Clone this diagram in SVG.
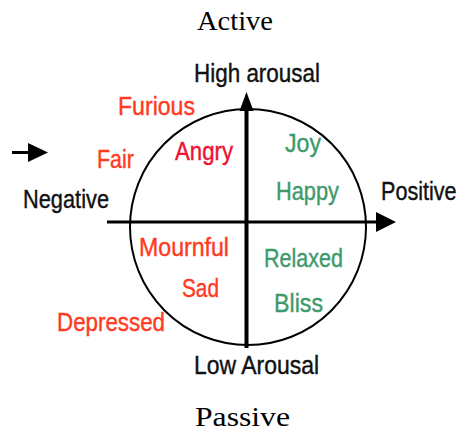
<svg xmlns="http://www.w3.org/2000/svg" width="462" height="432" viewBox="0 0 462 432">
<style>
.serif{font-family:"Liberation Serif","Times New Roman",serif;fill:#000}
.lab{font-family:"Liberation Sans",Arial,sans-serif;font-size:26px;stroke-width:0.4px}
.blk{fill:#111;stroke:#111}
.neg{fill:#ff3a22;stroke:#ff3a22}
.ang{fill:#ee1133;stroke:#ee1133}
.pos{fill:#3e9a6a;stroke:#3e9a6a}
.ax{stroke:#000;fill:none}
</style>
<rect width="462" height="432" fill="#fff"/>
<g id="circle">
<circle cx="248" cy="227" r="118" fill="none" stroke="#000" stroke-width="2"/>
</g>
<g id="connectors">
<line class="ax" x1="107" y1="222" x2="380" y2="222" stroke-width="3"/>
<polygon points="376,212 396,222 376,232" fill="#000"/>
<line class="ax" x1="246.5" y1="106" x2="246.5" y2="348" stroke-width="4"/>
<polygon points="239.5,111 246.5,92 253.5,111" fill="#000"/>
<line class="ax" x1="12" y1="152.5" x2="32" y2="152.5" stroke-width="3"/>
<polygon points="28,143 48,152.5 28,162" fill="#000"/>
</g>
<g id="active"><text class="serif" x="197" y="30" font-size="27" textLength="76" lengthAdjust="spacingAndGlyphs">Active</text></g>
<g id="passive"><text class="serif" x="195" y="426" font-size="28" textLength="95" lengthAdjust="spacingAndGlyphs">Passive</text></g>
<g id="high"><text class="lab blk" x="194" y="82" textLength="126" lengthAdjust="spacingAndGlyphs">High arousal</text></g>
<g id="low"><text class="lab blk" x="194" y="374" textLength="125" lengthAdjust="spacingAndGlyphs">Low Arousal</text></g>
<g id="negative"><text class="lab blk" x="23" y="208" textLength="86" lengthAdjust="spacingAndGlyphs">Negative</text></g>
<g id="positive"><text class="lab blk" transform="translate(381,200) scale(0.83,1)">Positive</text></g>
<g id="furious"><text class="lab neg" x="118" y="115" textLength="77" lengthAdjust="spacingAndGlyphs">Furious</text></g>
<g id="fair"><text class="lab neg" x="97" y="168" textLength="37" lengthAdjust="spacingAndGlyphs">Fair</text></g>
<g id="angry"><text class="lab ang" x="175" y="160" textLength="58" lengthAdjust="spacingAndGlyphs">Angry</text></g>
<g id="joy"><text class="lab pos" x="285" y="152" textLength="36" lengthAdjust="spacingAndGlyphs">Joy</text></g>
<g id="happy"><text class="lab pos" x="276" y="200" textLength="63" lengthAdjust="spacingAndGlyphs">Happy</text></g>
<g id="mournful"><text class="lab neg" x="139" y="256" textLength="90" lengthAdjust="spacingAndGlyphs">Mournful</text></g>
<g id="sad"><text class="lab neg" x="182" y="297" textLength="37" lengthAdjust="spacingAndGlyphs">Sad</text></g>
<g id="depressed"><text class="lab neg" x="57" y="331" textLength="108" lengthAdjust="spacingAndGlyphs">Depressed</text></g>
<g id="relaxed"><text class="lab pos" x="264" y="267" textLength="79" lengthAdjust="spacingAndGlyphs">Relaxed</text></g>
<g id="bliss"><text class="lab pos" x="274" y="312" textLength="49" lengthAdjust="spacingAndGlyphs">Bliss</text></g>
</svg>
